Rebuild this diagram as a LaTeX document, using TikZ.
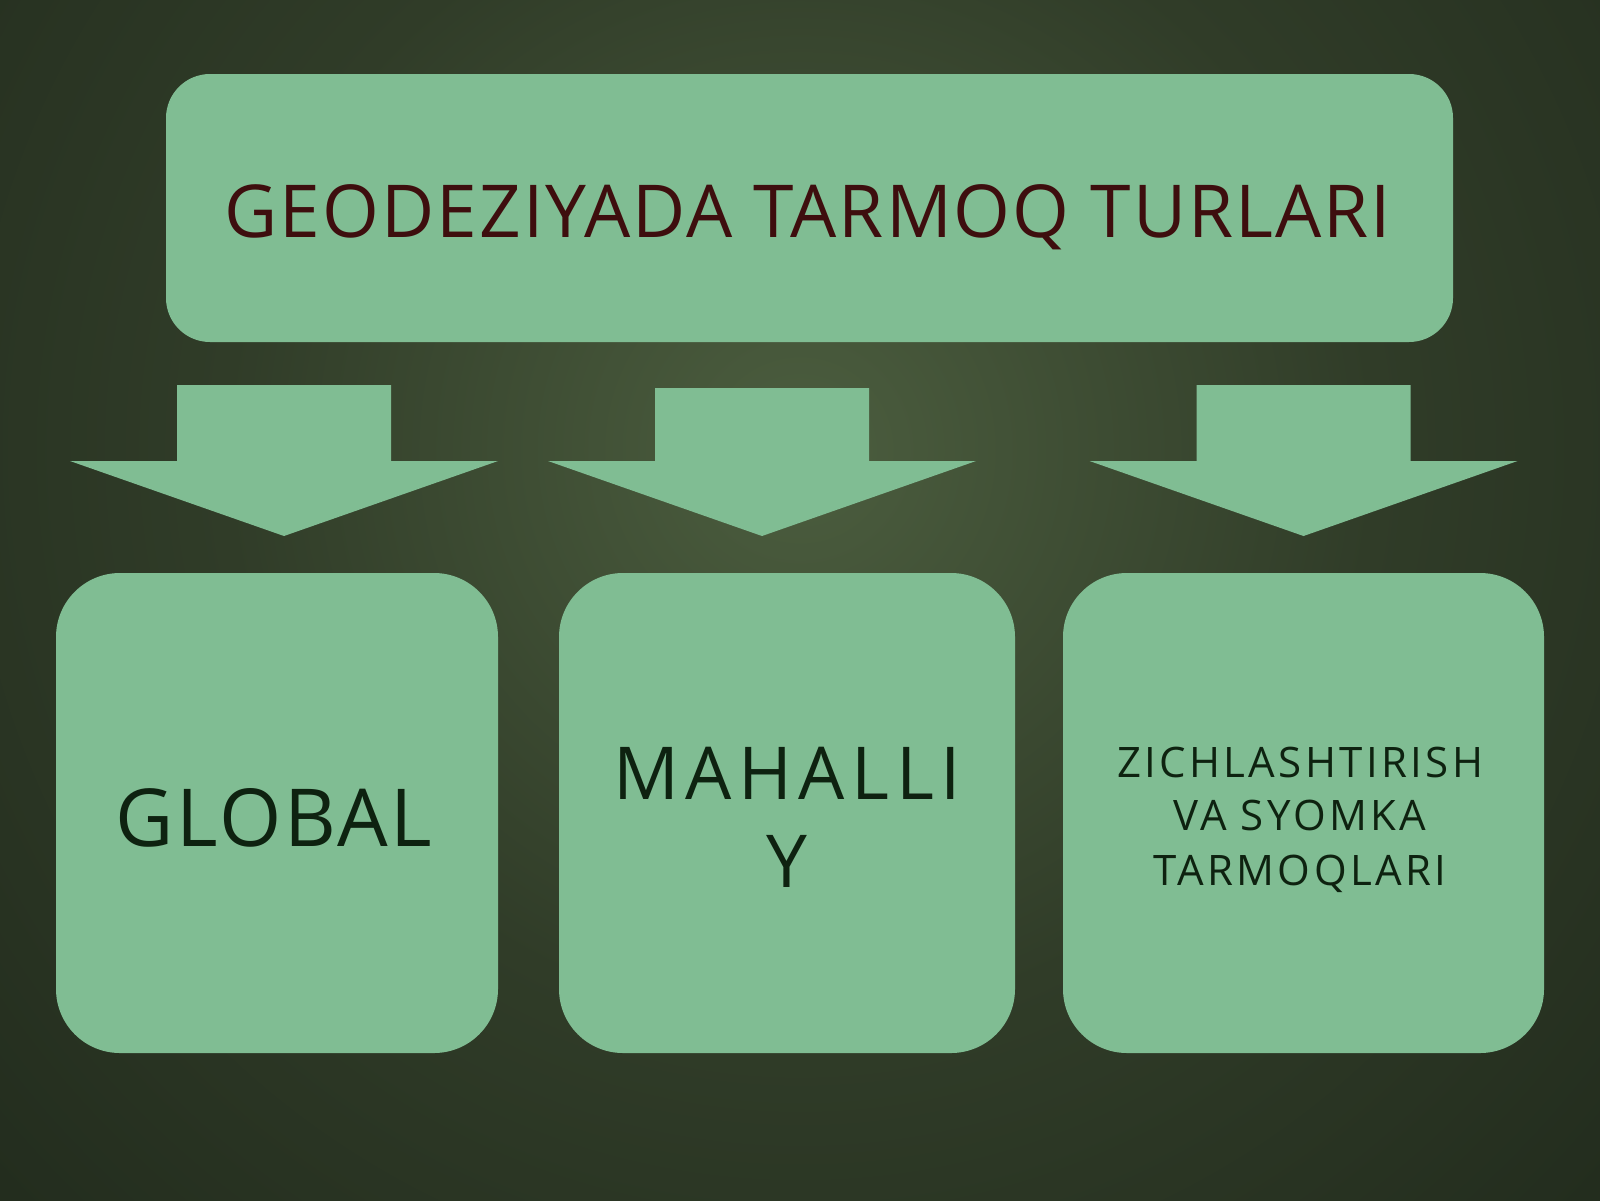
\documentclass[tikz,border=0pt]{standalone}
\usepackage{fontspec}
\setmainfont{Open Sans}
\definecolor{bgL}{RGB}{76,94,63}
\definecolor{bgM}{RGB}{48,60,40}
\definecolor{bgD}{RGB}{22,30,20}
\definecolor{boxfill}{RGB}{128,189,147}
\definecolor{titletxt}{RGB}{62,14,14}
\definecolor{bodytxt}{RGB}{14,34,16}
\pgfdeclareradialshading{bgshade}{\pgfpoint{0bp}{0bp}}{color(0bp)=(bgL); color(18bp)=(bgM); color(50bp)=(bgD); color(100bp)=(bgD)}
\tikzset{
  panel/.style={fill=boxfill, draw=none, rectangle, inner sep=0pt},
  topbox/.style={panel, rounded corners=22pt},
  lowbox/.style={panel, rounded corners=32pt},
  blockarrow/.style={fill=boxfill, draw=none},
  titlelabel/.style={inner sep=0pt, anchor=base, text=titletxt, font=\fontsize{36.5}{44}\selectfont\addfontfeatures{LetterSpace=2.8}},
  biglabel/.style={inner sep=0pt, anchor=base, text=bodytxt, font=\fontsize{40}{48}\selectfont\addfontfeatures{LetterSpace=3.5}},
  midlabel/.style={inner sep=0pt, anchor=base, text=bodytxt, font=\fontsize{36.5}{44}\selectfont\addfontfeatures{LetterSpace=9}},
  smalllabel/.style={inner sep=0pt, anchor=base, text=bodytxt, font=\fontsize{21}{26}\selectfont\addfontfeatures{LetterSpace=8}},
}
\begin{document}
\begin{tikzpicture}[x=0.5pt,y=-0.5pt]
\useasboundingbox (0,0) rectangle (1600,1200);
\begin{scope}
\clip (0,0) rectangle (1600,1200);
\fill[bgD] (0,0) rectangle (1600,1200);
\shade[shading=bgshade] (0,-350) rectangle (1600,1250);
\end{scope}

% boxes
\node[topbox, minimum width=643.5pt, minimum height=134pt] (top) at (809.5,208) {};
\node[lowbox, minimum width=221pt, minimum height=240pt] (b1) at (277,813) {};
\node[lowbox, minimum width=228pt, minimum height=240pt] (b2) at (787,813) {};
\node[lowbox, minimum width=240.5pt, minimum height=240pt] (b3) at (1303.5,813) {};

% block arrows
\coordinate (a1) at (284,385);
\coordinate (a2) at (762,388);
\coordinate (a3) at (1303.5,385);
\foreach \a in {a1,a2,a3}{
  \fill[blockarrow] ([xshift=-53.5pt]\a) -- ([xshift=53.5pt]\a)
     -- ([xshift=53.5pt]\a |- 0,461) -- ([xshift=107pt]\a |- 0,461)
     -- (\a |- 0,536)
     -- ([xshift=-107pt]\a |- 0,461) -- ([xshift=-53.5pt]\a |- 0,461) -- cycle;
}

% texts
\node[titlelabel] (t) at (808,237) {GEODEZIYADA TARMOQ TURLARI};
\node[biglabel] (g) at (274,846) {GLOBAL};
\node[midlabel] (m1) at (787,799) {MAHALLI};
\node[midlabel] (m2) at (787,887) {Y};
\node[smalllabel] (z1) at (1300,777) {ZICHLASHTIRISH};
\node[smalllabel] (z2) at (1300,830) {VA SYOMKA};
\node[smalllabel] (z3) at (1300,885) {TARMOQLARI};
\end{tikzpicture}
\end{document}
